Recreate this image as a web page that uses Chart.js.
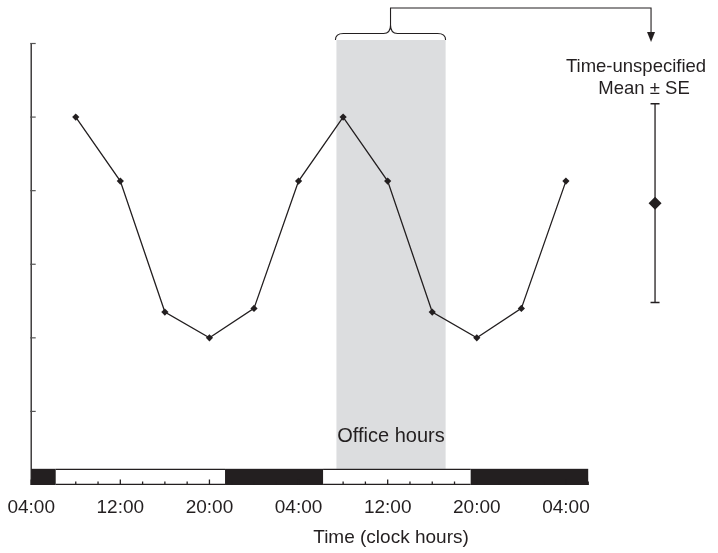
<!DOCTYPE html>
<html><head><meta charset="utf-8">
<script src="https://cdn.jsdelivr.net/npm/chart.js@4/dist/chart.umd.min.js"></script>
<style>html,body{margin:0;padding:0;background:#fff}</style>
</head><body>
<canvas id="c" width="718" height="553"></canvas>
<script>
// ---- data (hours counted from 04:00 on day 1) ----
const pointHours  = [4, 8, 12, 16, 20, 24, 28, 32, 36, 40, 44, 48];
const pointValues = [5.0, 4.13, 2.35, 2.0, 2.4, 4.13, 5.0, 4.13, 2.35, 2.0, 2.4, 4.13];
const tickHours   = [0, 8, 16, 24, 32, 40, 48];
const tickLabels  = ['04:00', '12:00', '20:00', '04:00', '12:00', '20:00', '04:00'];
const minorTickHours = [0, 2, 4, 6, 8, 10, 12, 14, 16, 18, 20, 22, 24, 26, 28, 30, 32, 34, 36, 38, 40, 42, 44, 46, 48, 50];
const yTickValues = [1, 2, 3, 4, 5, 6];
const meanHour  = [56];
const meanValue = [3.83];
const meanSE    = [1.35];
const darkPeriods  = [[0, 2.2], [17.4, 26.2], [39.45, 50]];
const lightPeriods = [[2.2, 17.4], [26.2, 39.45]];
const officeHours  = [27.4, 37.2];
const barValues    = [0, 0.22];
const xTitle = 'Time (clock hours)';

const C = '#231f20';
const FONT = '"Liberation Sans", Arial, Helvetica, sans-serif';

const decor = {
  id: 'decor',
  beforeDatasetsDraw(chart) {
    const {ctx, chartArea: a, scales: {x, y}} = chart;
    ctx.save();
    const ox0 = x.getPixelForValue(officeHours[0]);
    const ox1 = x.getPixelForValue(officeHours[1]);
    const barTop = y.getPixelForValue(barValues[1]);
    const barBot = y.getPixelForValue(barValues[0]);
    const gTop = a.top - 3.5;
    // office hours shading
    ctx.fillStyle = '#dcdddf';
    ctx.fillRect(ox0, gTop, ox1 - ox0, barTop - gTop);
    ctx.fillStyle = C;
    ctx.font = '20px ' + FONT;
    ctx.textAlign = 'center';
    ctx.textBaseline = 'middle';
    ctx.fillText('Office hours', (ox0 + ox1) / 2, barTop - 32);

    // y axis line + inward ticks
    const x0 = x.getPixelForValue(0);
    ctx.strokeStyle = C;
    ctx.lineWidth = 1.3;
    ctx.beginPath();
    ctx.moveTo(x0, y.getPixelForValue(0));
    ctx.lineTo(x0, y.getPixelForValue(6));
    ctx.stroke();
    ctx.strokeStyle = '#555';
    ctx.lineWidth = 1.2;
    yTickValues.forEach(v => {
      const py = y.getPixelForValue(v);
      ctx.beginPath(); ctx.moveTo(x0 - 1, py); ctx.lineTo(x0 + 4.5, py); ctx.stroke();
    });

    // light / dark bar
    ctx.fillStyle = C;
    darkPeriods.forEach(([s, e]) => {
      const px0 = x.getPixelForValue(s), px1 = x.getPixelForValue(e);
      ctx.fillRect(px0, barTop, px1 - px0, barBot - barTop);
    });
    ctx.strokeStyle = C;
    ctx.lineWidth = 1.3;
    lightPeriods.forEach(([s, e]) => {
      const px0 = x.getPixelForValue(s), px1 = x.getPixelForValue(e);
      ctx.beginPath();
      ctx.moveTo(px0, barTop + 0.6); ctx.lineTo(px1, barTop + 0.6);
      ctx.moveTo(px0, barBot - 0.6); ctx.lineTo(px1, barBot - 0.6);
      ctx.stroke();
    });
    minorTickHours.forEach(h => {
      const px = x.getPixelForValue(h);
      const len = tickHours.includes(h) ? 5.5 : 3.5;
      ctx.beginPath(); ctx.moveTo(px, barBot); ctx.lineTo(px, barBot - len); ctx.stroke();
    });

    // brace over office hours and arrow to the mean
    const L = ox0 - 1, R = ox1, M = (L + R) / 2;
    const yb = gTop, yh = gTop - 6.5, yt = gTop - 15;
    ctx.lineWidth = 1.1;
    ctx.beginPath();
    ctx.moveTo(L, yb);
    ctx.quadraticCurveTo(L, yh, L + 8, yh);
    ctx.lineTo(M - 7, yh);
    ctx.quadraticCurveTo(M, yh, M, yt);
    ctx.quadraticCurveTo(M, yh, M + 7, yh);
    ctx.lineTo(R - 8, yh);
    ctx.quadraticCurveTo(R, yh, R, yb);
    ctx.stroke();
    const mx = x.getPixelForValue(meanHour[0]);
    const ax = mx - 4;
    ctx.beginPath();
    ctx.moveTo(M, yt); ctx.lineTo(M, 8); ctx.lineTo(ax, 8); ctx.lineTo(ax, 33);
    ctx.stroke();
    ctx.beginPath();
    ctx.moveTo(ax - 4, 32); ctx.lineTo(ax + 4, 32); ctx.lineTo(ax, 42); ctx.closePath();
    ctx.fill();

    ctx.font = '18.5px ' + FONT;
    ctx.fillText('Time-unspecified', mx - 19, 67);
    ctx.fillText('Mean \u00b1 SE', mx - 11, 89);

    // x axis title
    ctx.font = '19px ' + FONT;
    ctx.fillText(xTitle, x.getPixelForValue(32.3), 538);
    ctx.restore();
  }
};

new Chart(document.getElementById('c'), {
  type: 'line',
  data: {
    datasets: [
      {
        data: pointHours.map((h, i) => ({x: h, y: pointValues[i]})),
        borderColor: C, backgroundColor: C, borderWidth: 1.3,
        pointStyle: 'rectRot', pointRadius: 3.6, pointBorderWidth: 0, tension: 0
      },
      {
        data: [{x: meanHour[0], y: meanValue[0] - meanSE[0]}, {x: meanHour[0], y: meanValue[0] + meanSE[0]}],
        borderColor: C, backgroundColor: C, borderWidth: 1.3,
        pointStyle: 'line', pointRadius: 4.5, pointBorderWidth: 1.5, pointBorderColor: C
      },
      {
        data: [{x: meanHour[0], y: meanValue[0]}],
        borderColor: C, backgroundColor: C, showLine: false,
        pointStyle: 'rectRot', pointRadius: 6.5, pointBorderWidth: 0
      }
    ]
  },
  options: {
    responsive: false,
    animation: false,
    devicePixelRatio: 1,
    layout: {padding: {left: 31.2, right: 18.4, top: 43.5, bottom: 22}},
    plugins: {legend: {display: false}, tooltip: {enabled: false}},
    scales: {
      x: {
        type: 'linear', min: 0, max: 60,
        grid: {display: false, drawTicks: false, tickLength: 0},
        border: {display: false},
        afterBuildTicks: axis => { axis.ticks = tickHours.map(v => ({value: v})); },
        ticks: {
          autoSkip: false, maxRotation: 0, padding: 3, color: C,
          font: {family: FONT, size: 19, lineHeight: 40 / 19},
          callback: v => tickLabels[tickHours.indexOf(v)]
        },
        title: {display: false}
      },
      y: {min: 0, max: 6, display: false}
    }
  },
  plugins: [decor]
});
</script>
</body></html>
